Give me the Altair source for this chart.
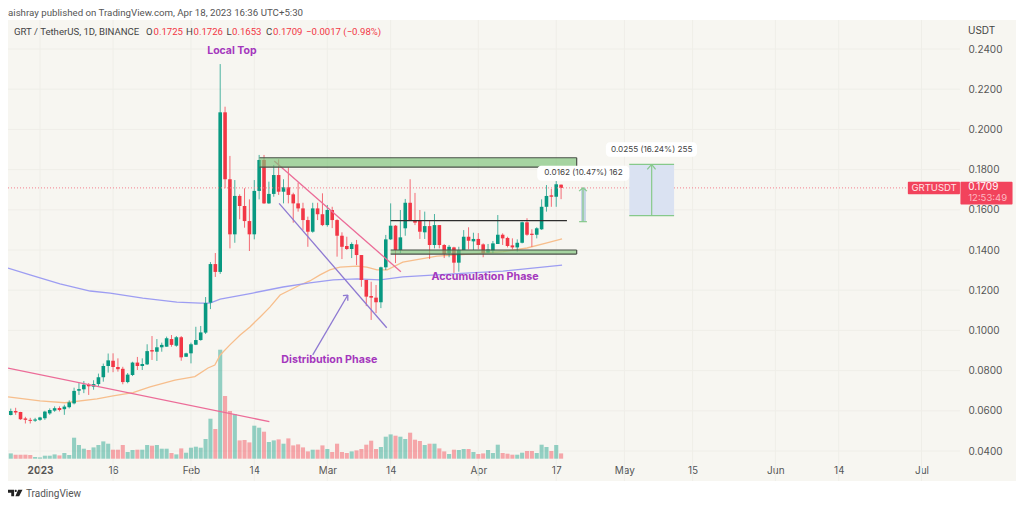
import altair as alt
import pandas as pd

FONT = "Inter"
HFONT = "Roboto"
GREEN = "#089981"
RED = "#F23645"
GRID = "#EFEEE8"
PURPLE = "#A437BD"
LINEP = "#8E79D2"
PINK = "#EC6C98"

opens = [.0579,.0599,.0594,.0562,.0555,.0551,.0555,.0563,.0587,.0601,.0614,.0608,.0618,.0637,.0700,.0707,.0730,.0720,.0733,.0767,.0823,
 .0849,.0818,.0809,.0743,.0778,.0840,.0823,.0831,.0902,.0894,.0916,.0919,.0957,.0924,.0966,.0869,.0886,.0929,.0952,.0989,.1138,.1330,.1291,
 .2085,.1752,.1478,.1669,.1619,.1544,.1478,.1694,.1848,.1632,.1679,.1773,.1690,.1712,.1677,.1632,.1607,.1549,.1491,.1607,.1578,.1524,.1599,
 .1549,.1471,.1420,.1405,.1428,.1375,.1251,.1171,.1163,.1140,.1314,.1453,.1521,.1400,.1508,.1635,.1549,.1549,.1488,.1519,.1425,.1524,.1425,
 .1384,.1413,.1337,.1400,.1466,.1443,.1455,.1428,.1387,.1397,.1430,.1476,.1460,.1423,.1413,.1436,.1538,.1481,.1476,.1503,.1615,.1672,.1665,.1725]
highs = [.0611,.0615,.0595,.0570,.0565,.0565,.0570,.0600,.0612,.0622,.0622,.0630,.0652,.0715,.0738,.0748,.0738,.0752,.0785,.0835,.0885,
 .0886,.0861,.0819,.0788,.0844,.0868,.0861,.0931,.0972,.0957,.0939,.0969,.0977,.0972,.0972,.0889,.0939,.1018,.1022,.1166,.1340,.1385,.2325,
 .2113,.1868,.1748,.1677,.1707,.1652,.1748,.1873,.1873,.1740,.1823,.1851,.1752,.1811,.1685,.1735,.1635,.1566,.1635,.1635,.1682,.1624,.1615,
 .1553,.1488,.1466,.1438,.1450,.1375,.1251,.1242,.1226,.1317,.1475,.1632,.1524,.1599,.1654,.1752,.1684,.1599,.1591,.1549,.1579,.1524,.1430,
 .1425,.1416,.1416,.1499,.1513,.1486,.1484,.1433,.1430,.1445,.1574,.1483,.1466,.1458,.1453,.1541,.1558,.1503,.1513,.1652,.1723,.1704,.1743,.1726]
lows = [.0577,.0580,.0555,.0537,.0537,.0545,.0550,.0555,.0580,.0595,.0597,.0580,.0612,.0632,.0679,.0688,.0679,.0705,.0720,.0745,.0790,
 .0792,.0795,.0732,.0737,.0773,.0803,.0803,.0828,.0853,.0848,.0894,.0919,.0919,.0919,.0849,.0868,.0836,.0927,.0949,.0982,.1106,.1266,.1281,
 .1707,.1408,.1436,.1553,.1511,.1395,.1453,.1652,.1629,.1629,.1665,.1674,.1632,.1632,.1536,.1591,.1500,.1416,.1486,.1549,.1519,.1516,.1509,
 .1367,.1355,.1400,.1360,.1325,.1217,.1121,.1052,.1086,.1111,.1300,.1450,.1335,.1385,.1471,.1545,.1524,.1455,.1455,.1355,.1408,.1408,.1360,
 .1364,.1286,.1292,.1400,.1403,.1400,.1403,.1364,.1384,.1385,.1430,.1425,.1413,.1403,.1392,.1433,.1471,.1416,.1458,.1500,.1591,.1615,.1615,.1653]
closes = [.0599,.0592,.0558,.0555,.0550,.0557,.0567,.0596,.0604,.0613,.0604,.0621,.0642,.0699,.0708,.0730,.0722,.0733,.0767,.0823,.0851,
 .0818,.0807,.0743,.0780,.0840,.0823,.0833,.0897,.0895,.0916,.0928,.0961,.0928,.0966,.0866,.0886,.0931,.0952,.0990,.1136,.1330,.1291,.2085,
 .1752,.1478,.1669,.1619,.1544,.1478,.1694,.1848,.1632,.1679,.1773,.1690,.1712,.1674,.1632,.1607,.1549,.1491,.1607,.1578,.1524,.1599,.1549,
 .1471,.1416,.1405,.1430,.1375,.1251,.1168,.1163,.1140,.1314,.1453,.1521,.1400,.1463,.1635,.1549,.1536,.1491,.1519,.1425,.1524,.1425,.1380,
 .1416,.1337,.1400,.1466,.1446,.1455,.1425,.1384,.1403,.1433,.1476,.1458,.1420,.1413,.1436,.1538,.1476,.1475,.1508,.1615,.1669,.1665,.1727,.1709]
volumes = [5.3,4,4,4,3.7,1.7,1.3,3,3,4.3,3.3,5.7,3.7,21,13.7,10,8.7,11.3,13.7,17.3,15,9,9,13.7,6.7,8.7,9,9,13.7,13,13.7,10,10,5.7,4.3,10.3,6,11,12,11,
 19.7,40,29.7,109,62.7,47.7,44.7,18.3,18.7,16.3,33,31,27,16.7,18.3,19.3,15,20.3,13.3,14.3,11.3,7.3,9,9,13.3,9.7,6.7,15,6.7,5.7,7.3,8.3,9.7,14,18,9.7,
 11.7,22,24.3,23,22,19.7,26,19,17.7,13.7,15,15,10.3,7.3,4.7,9,8.7,9.7,9.7,6.7,4.7,5.3,8.7,5.7,14,5.7,5,4,4,6,7.7,7.7,5.7,14,11.7,7.7,13.7,5.3]
days = list(range(-6, 108))

ema_days = [-6.57,0,5.1,11.7,15,19.1,22.6,27.7,31.8,34.5,35.9,37,39,41.1,43.1,45.2,47.2,49.3,53.4,55.4,57.5,59.5,61.6,65.1,67.1,69.2,71.3,74.5,81.5,88.3,95.1,100,104.1,107.2]
ema_vals = [.0669,.0649,.0640,.0659,.0674,.0690,.0719,.0753,.0770,.0813,.0828,.0878,.0928,.0977,.1017,.1067,.1116,.1176,.1226,.1246,.1276,.1301,.1315,.1320,.1315,.1301,.1301,.1340,.1370,.1380,.1392,.1410,.1436,.1455]
ma_days = [-6.57,-2.05,4.1,10.3,14.4,21.1,28.1,32.9,34.9,37,43.7,49.9,55.4,60.2,65.1,69.8,74.5,88.3,95.1,107.2]
ma_vals = [.1310,.1276,.1231,.1196,.1186,.1161,.1141,.1136,.1136,.1156,.1186,.1216,.1236,.1251,.1256,.1251,.1266,.1286,.1295,.1325]

tick_days = [0,15,31,44,59,72,90,106,120,134,151,164,181]
tick_labels = ["2023","16","Feb","14","Mar","14","Apr","17","May","15","Jun","14","Jul"]
price_ticks = [.04,.06,.08,.10,.12,.14,.16,.18,.20,.22,.24]

XDOM = [-6.571, 200.41]
YDOM = [.02508, .25443]
xs = alt.Scale(domain=XDOM, padding=0)
ys = alt.Scale(domain=YDOM)

label_map = "{" + ",".join(f"'{d}':'{t}'" for d, t in zip(tick_days, tick_labels)) + "}"
xaxis = alt.Axis(values=tick_days, labelExpr=label_map + "[datum.value]", domain=False, title=None,
    ticks=False, grid=False, offset=-18, labelPadding=2, labelFont=FONT, labelFontSize=10, labelColor="#555",
    labelFontWeight=alt.expr("datum.value==0?'bold':'normal'"), labelOverlap=False, labelFlush=False)

def X(f="x"): return alt.X(f"{f}:Q", scale=xs, axis=xaxis)
def Y(f="y"): return alt.Y(f"{f}:Q", scale=ys, axis=None)

candles = pd.DataFrame(dict(x=days, o=opens, h=highs, l=lows, c=closes, v=volumes))
candles["up"] = candles.c >= candles.o
ccolor = alt.Color("up:N", legend=None, scale=alt.Scale(domain=[True, False], range=[GREEN, RED]))

# grid
ygrid = alt.Chart(pd.DataFrame(dict(y=price_ticks, x=XDOM[0], x2=188.9))).mark_rule(color=GRID, strokeWidth=1).encode(
    x=X(), x2="x2:Q", y=Y())
xgrid = alt.Chart(pd.DataFrame(dict(x=tick_days, y=YDOM[0], y2=YDOM[1]))).mark_rule(color=GRID, strokeWidth=1).encode(
    x=X(), y=Y(), y2="y2:Q")

# price axis
axes = alt.Chart(pd.DataFrame(dict(x=tick_days, y=[.05] * len(tick_days)))).mark_point(opacity=0).encode(
    x=X(),
    y=alt.Y("y:Q", scale=ys, title=None, axis=alt.Axis(orient="right", values=price_ticks, format=".4f", domain=False, ticks=False,
        grid=False, offset=-48, labelPadding=0, labelFont=FONT, labelFontSize=10, labelColor="#555", labelOverlap=False)))

# volume
vol = alt.Chart(candles).mark_bar(size=4.1, opacity=0.42).encode(
    x=X(), y=alt.Y("v:Q", axis=None, scale=alt.Scale(domain=[0, 438.7], range=[438.7, 0])), color=ccolor)

# moving averages
ema = alt.Chart(pd.DataFrame(dict(x=ema_days, y=ema_vals))).mark_line(color="#F7BE8C", strokeWidth=1.3).encode(x=X(), y=Y())
ma = alt.Chart(pd.DataFrame(dict(x=ma_days, y=ma_vals))).mark_line(color="#9D9DF2", strokeWidth=1.3).encode(x=X(), y=Y())

# candles
wick = alt.Chart(candles).mark_rule(strokeWidth=1, opacity=0.72).encode(x=X(), y=Y("l"), y2="h:Q", color=ccolor)
body = alt.Chart(candles).mark_bar(size=3.6, orient="vertical").encode(x=X(), y=Y("o"), y2="c:Q", color=ccolor)

def seg(xa, ya, xb, yb, color, w=1.3, dash=None):
    kw = dict(color=color, strokeWidth=w)
    if dash:
        kw["strokeDash"] = dash
    return alt.Chart(pd.DataFrame(dict(x=[xa], y=[ya], x2=[xb], y2=[yb]))).mark_rule(**kw).encode(
        x=X(), y=Y(), x2="x2:Q", y2="y2:Q")

def box(xa, xb, ya, yb, color, op=1.0, r=0):
    kw = dict(color=color, opacity=op)
    if r:
        kw["cornerRadius"] = r
    return alt.Chart(pd.DataFrame(dict(x=[xa], y=[ya], x2=[xb], y2=[yb]))).mark_rect(**kw).encode(
        x=X(), y=Y(), x2="x2:Q", y2="y2:Q")

def label(x, y, txt, color="#444", size=10, weight="normal", align="center"):
    return alt.Chart(pd.DataFrame(dict(x=[x], y=[y], t=[txt]))).mark_text(
        color=color, fontSize=size, fontWeight=weight, align=align, baseline="middle", font=FONT).encode(
        x=X(), y=Y(), text="t:N")

def chrome(x, y, txt, color="#555", size=9.6, weight="normal", font=HFONT):
    return alt.Chart(pd.DataFrame(dict(t=[txt]))).mark_text(
        color=color, fontSize=size, fontWeight=weight, align="left", baseline="middle", font=font).encode(
        x=alt.value(x), y=alt.value(y), text="t:N")

ZONE = "#7FC47A"
DARK = "#4A5148"
ann = [
    # trend lines
    seg(-6.57, .0812, 47.1, .0546, PINK),
    seg(48.1, .1843, 74.1, .1292, PINK),
    seg(49.1, .1632, 71.2, .1013, LINEP),
    seg(56, .0878, 63.2, .1176, LINEP),
    seg(62.2, .1173, 63.2, .1176, LINEP),
    seg(63.2, .1176, 63.2, .1148, LINEP),
    # zones
    box(45.07, 110.2, .1812, .1859, ZONE, .68),
    seg(45.07, .1859, 110.2, .1859, DARK, 1.2),
    seg(45.07, .1812, 110.2, .1812, DARK, 1.2),
    seg(110.2, .1812, 110.2, .1859, DARK, 1.2),
    box(72, 110.2, .1380, .1400, ZONE, .68),
    seg(72, .1400, 110.2, .1400, DARK, 1.2),
    seg(72, .1380, 110.2, .1380, DARK, 1.2),
    seg(110.2, .1380, 110.2, .1400, DARK, 1.2),
    seg(72, .1546, 108.2, .1546, "#2E2E2E", 1.4),
    # last price line
    seg(-6.57, .1709, 178.2, .1709, "#F4808E", 1, [1, 2]),
    # small long position
    box(111.1, 112.1, .1541, .1710, "#C3D3E4", 1),
    seg(111.5, .1541, 111.5, .1710, "#86C98B", 1.2),
    seg(110.7, .1541, 112.3, .1541, "#86C98B", 1.2),
    seg(110.7, .1693, 111.5, .1710, "#86C98B", 1.2),
    seg(112.3, .1693, 111.5, .1710, "#86C98B", 1.2),
    # large long position
    box(121.0, 130.2, .1571, .1826, "#DAE2F2", 1),
    seg(121.0, .1826, 130.2, .1826, "#86C98B", 1.4),
    seg(121.0, .1571, 130.2, .1571, "#86C98B", 1.4),
    seg(125.6, .1571, 125.6, .1826, "#86C98B", 1.2),
    seg(124.7, .1801, 125.6, .1826, "#86C98B", 1.2),
    seg(126.4, .1801, 125.6, .1826, "#86C98B", 1.2),
    # callouts
    box(116.2, 134.9, .1864, .1936, "#FFFFFF", 1, 4),
    label(125.6, .1900, "0.0255 (16.24%) 255", "#444", 8.2),
    box(102.1, 121.0, .1745, .1819, "#FFFFFF", 1, 4),
    label(111.6, .1783, "0.0162 (10.47%) 162", "#444", 8.2),
    # price labels
    box(178.2, 188.9, .1678, .1740, "#F2435C", 1, 1),
    box(189.0, 199.7, .1627, .1740, "#F2435C", 1, 1),
    label(183.6, .1709, "GRTUSDT", "#FFE3E6", 9.5),
    label(190.6, .1712, "0.1709", "#FFFFFF", 10, align="left"),
    label(190.6, .1657, "12:53:49", "#FDBAC2", 9.5, align="left"),
    # text
    label(39.4, .2392, "Local Top", PURPLE, 10.5, "bold"),
    label(59.4, .0853, "Distribution Phase", PURPLE, 10.7, "bold"),
    label(91.4, .1268, "Accumulation Phase", PURPLE, 10.7, "bold"),
]

header = [
    chrome(0, -7, "aishray published on TradingView.com, Apr 18, 2023 16:36 UTC+5:30", "#555", 9.7),
    chrome(6, 12, "GRT / TetherUS, 1D, BINANCE", "#444"),
    chrome(138, 12, "O", "#444"),
    chrome(145.5, 12, "0.1725", RED),
    chrome(178, 12, "H", "#444"),
    chrome(185.5, 12, "0.1726", RED),
    chrome(218.5, 12, "L", "#444"),
    chrome(224, 12, "0.1653", RED),
    chrome(258, 12, "C", "#444"),
    chrome(265, 12, "0.1709", RED),
    chrome(298, 12, "\u22120.0017 (\u22120.98%)", RED),
    chrome(960, 10.5, "USDT", "#444", 10, font=FONT),
    chrome(18, 474, "TradingView", "#555", 10),
    alt.Chart(pd.DataFrame(dict(t=["logo"]))).mark_point(
        shape="M-1,-0.42 H-0.12 V0.42 H-0.5 V-0.05 H-1 Z M0.1,-0.42 A0.14,0.14 0 1 1 0.1,-0.14 A0.14,0.14 0 1 1 0.1,-0.42 Z M0.42,-0.42 H1 L0.55,0.42 H0.05 Z",
        size=225, filled=True, color="#222", opacity=1).encode(x=alt.value(7), y=alt.value(473)),
]

layers = [axes, xgrid, ygrid, vol, ema, ma, wick, body] + ann + header
chart = alt.layer(*layers).resolve_scale(y="independent", color="independent").properties(
    width=1008, height=461, padding={"left": 0, "top": 12, "right": 0, "bottom": 26},
    autosize=alt.AutoSizeParams(type="none"), background="#FFFFFF"
).configure_view(fill="#F7F6F1", stroke=None)

chart.save("out.html", embed_options={"renderer": "svg", "actions": False})
